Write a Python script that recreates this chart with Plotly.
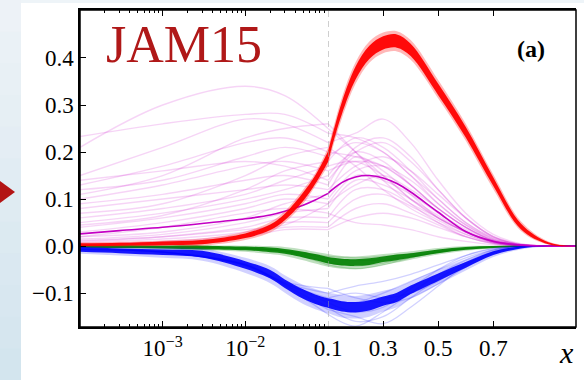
import plotly.graph_objects as go

# ---------------- data ----------------
# knots for the bands / central curve: log part (<=0.1) then linear part (>0.1)
X_BAND = [1e-4, 3e-4, 1e-3, 3e-3, 1e-2, 2e-2, 3e-2, 5e-2, 7e-2, 0.1,
          0.12, 0.15, 0.2, 0.25, 0.3, 0.35, 0.4, 0.5, 0.6, 0.7, 0.8, 0.9, 1.0]

RED_CORE_LO = [0.000, 0.001, 0.002, 0.004, 0.017, 0.034, 0.055, 0.096, 0.132, 0.179,
               0.223, 0.280, 0.354, 0.398, 0.418, 0.422, 0.404, 0.321, 0.231, 0.128, 0.036, 0.004, 0.0]
RED_CORE_HI = [0.006, 0.007, 0.010, 0.013, 0.027, 0.046, 0.069, 0.114, 0.150, 0.201,
               0.245, 0.306, 0.382, 0.426, 0.446, 0.450, 0.430, 0.345, 0.253, 0.146, 0.048, 0.008, 0.0]
RED_OUT_LO = [-0.002, -0.001, 0.000, 0.001, 0.013, 0.029, 0.050, 0.090, 0.127, 0.171,
              0.215, 0.271, 0.345, 0.390, 0.410, 0.414, 0.396, 0.314, 0.224, 0.121, 0.032, 0.003, 0.0]
RED_OUT_HI = [0.008, 0.009, 0.012, 0.016, 0.031, 0.051, 0.074, 0.120, 0.155, 0.209,
              0.253, 0.315, 0.391, 0.435, 0.454, 0.457, 0.438, 0.353, 0.260, 0.152, 0.053, 0.010, 0.0]

BLUE_CORE_LO = [-0.012, -0.015, -0.019, -0.024, -0.048, -0.069, -0.089, -0.112, -0.123, -0.131,
                -0.135, -0.139, -0.141, -0.137, -0.127, -0.119, -0.102, -0.074, -0.046, -0.019, -0.005, 0.0, 0.0]
BLUE_CORE_HI = [-0.002, -0.005, -0.007, -0.010, -0.032, -0.051, -0.071, -0.092, -0.103, -0.111,
                -0.113, -0.117, -0.119, -0.115, -0.107, -0.099, -0.084, -0.058, -0.034, -0.011, -0.001, 0.0, 0.0]
BLUE_OUT_LO = [-0.016, -0.020, -0.025, -0.031, -0.057, -0.079, -0.099, -0.123, -0.134, -0.143,
               -0.147, -0.152, -0.154, -0.150, -0.139, -0.130, -0.112, -0.082, -0.052, -0.023, -0.007, -0.001, 0.0]
BLUE_OUT_HI = [0.000, -0.002, -0.003, -0.005, -0.025, -0.043, -0.062, -0.082, -0.091, -0.099,
               -0.101, -0.104, -0.106, -0.102, -0.095, -0.088, -0.075, -0.050, -0.028, -0.007, 0.000, 0.0, 0.0]

GREEN_CORE_LO = [-0.004, -0.004, -0.005, -0.007, -0.009, -0.013, -0.016, -0.024, -0.030, -0.037,
                 -0.039, -0.041, -0.042, -0.040, -0.034, -0.030, -0.025, -0.015, -0.008, -0.004, -0.0015, 0.0, 0.0]
GREEN_CORE_HI = [0.002, 0.002, 0.001, 0.001, -0.001, -0.003, -0.006, -0.012, -0.017, -0.023,
                 -0.025, -0.027, -0.028, -0.026, -0.022, -0.018, -0.015, -0.007, -0.002, 0.000, 0.0005, 0.0, 0.0]
GREEN_OUT_LO = [-0.005, -0.005, -0.007, -0.009, -0.012, -0.017, -0.021, -0.030, -0.037, -0.044,
                -0.046, -0.048, -0.049, -0.046, -0.040, -0.035, -0.029, -0.018, -0.010, -0.005, -0.002, 0.0, 0.0]
GREEN_OUT_HI = [0.003, 0.003, 0.002, 0.002, 0.001, 0.000, -0.002, -0.007, -0.012, -0.017,
                -0.019, -0.021, -0.022, -0.020, -0.017, -0.014, -0.011, -0.004, 0.000, 0.001, 0.001, 0.0, 0.0]

MAG_MID = [0.026, 0.033, 0.040, 0.048, 0.058, 0.066, 0.074, 0.087, 0.098, 0.112,
           0.122, 0.135, 0.147, 0.150, 0.145, 0.133, 0.115, 0.072, 0.031, 0.010, 0.002, 0.0, 0.0]

# knots for the individual faint replicas
X_REP = [1e-4, 1e-3, 1e-2, 3e-2, 0.1, 0.2, 0.3, 0.4, 0.5, 0.6, 0.7, 0.8, 0.9, 1.0]

MAG_REPLICAS = [
    [0.210, 0.300, 0.340, 0.320, 0.250, 0.200, 0.150, 0.100, 0.060, 0.030, 0.010, 0.002, 0, 0],
    [0.233, 0.260, 0.280, 0.280, 0.240, 0.230, 0.200, 0.150, 0.090, 0.045, 0.015, 0.003, 0, 0],
    [0.150, 0.210, 0.270, 0.260, 0.220, 0.240, 0.270, 0.220, 0.140, 0.070, 0.025, 0.005, 0, 0],
    [0.130, 0.170, 0.220, 0.230, 0.200, 0.190, 0.170, 0.130, 0.080, 0.040, 0.013, 0.002, 0, 0],
    [0.120, 0.140, 0.190, 0.210, 0.190, 0.220, 0.200, 0.150, 0.100, 0.050, 0.018, 0.003, 0, 0],
    [0.100, 0.130, 0.170, 0.180, 0.160, 0.180, 0.170, 0.130, 0.080, 0.040, 0.012, 0.002, 0, 0],
    [0.140, 0.160, 0.180, 0.170, 0.140, 0.200, 0.220, 0.180, 0.120, 0.060, 0.020, 0.004, 0, 0],
    [0.090, 0.110, 0.140, 0.150, 0.130, 0.210, 0.230, 0.190, 0.120, 0.060, 0.020, 0.003, 0, 0],
    [0.080, 0.100, 0.120, 0.130, 0.120, 0.170, 0.190, 0.160, 0.110, 0.060, 0.020, 0.003, 0, 0],
    [0.060, 0.080, 0.110, 0.140, 0.170, 0.180, 0.150, 0.100, 0.060, 0.030, 0.010, 0.002, 0, 0],
    [0.050, 0.070, 0.100, 0.120, 0.150, 0.200, 0.180, 0.130, 0.080, 0.040, 0.012, 0.002, 0, 0],
    [0.040, 0.060, 0.090, 0.110, 0.100, 0.160, 0.170, 0.140, 0.090, 0.045, 0.015, 0.002, 0, 0],
    [0.030, 0.050, 0.080, 0.100, 0.090, 0.130, 0.150, 0.120, 0.080, 0.040, 0.012, 0.002, 0, 0],
    [0.020, 0.030, 0.060, 0.090, 0.110, 0.190, 0.160, 0.110, 0.060, 0.030, 0.008, 0.001, 0, 0],
    [0.015, 0.025, 0.050, 0.070, 0.080, 0.140, 0.130, 0.100, 0.065, 0.030, 0.010, 0.001, 0, 0],
    [0.010, 0.020, 0.040, 0.060, 0.060, 0.120, 0.120, 0.090, 0.060, 0.030, 0.008, 0.001, 0, 0],
    [0.008, 0.015, 0.030, 0.050, 0.050, 0.100, 0.110, 0.085, 0.055, 0.025, 0.007, 0.001, 0, 0],
    [0.005, 0.010, 0.025, 0.040, 0.040, 0.080, 0.090, 0.070, 0.045, 0.020, 0.006, 0.001, 0, 0],
    [0.003, 0.008, 0.020, 0.035, 0.035, 0.060, 0.070, 0.060, 0.040, 0.020, 0.005, 0.001, 0, 0],
    [0.070, 0.090, 0.150, 0.190, 0.210, 0.170, 0.120, 0.080, 0.050, 0.025, 0.008, 0.001, 0, 0],
    [0.110, 0.150, 0.230, 0.250, 0.260, 0.200, 0.140, 0.090, 0.050, 0.020, 0.006, 0.001, 0, 0],
    [0.020, 0.040, 0.070, 0.080, 0.070, 0.050, 0.045, 0.035, 0.020, 0.010, 0.003, 0.000, 0, 0],
    [0.045, 0.065, 0.120, 0.160, 0.180, 0.230, 0.210, 0.160, 0.100, 0.050, 0.017, 0.003, 0, 0],
    [0.012, 0.020, 0.035, 0.045, 0.090, 0.150, 0.140, 0.110, 0.070, 0.035, 0.010, 0.002, 0, 0],
]

BLUE_REPLICAS = [
    [-0.006, -0.012, -0.038, -0.078, -0.100, -0.085, -0.075, -0.060, -0.040, -0.020, -0.006, -0.001, 0, 0],
    [-0.007, -0.013, -0.040, -0.082, -0.130, -0.160, -0.150, -0.110, -0.070, -0.035, -0.010, -0.002, 0, 0],
    [-0.007, -0.013, -0.042, -0.085, -0.145, -0.170, -0.140, -0.100, -0.060, -0.030, -0.008, -0.001, 0, 0],
    [-0.007, -0.013, -0.040, -0.080, -0.110, -0.100, -0.110, -0.100, -0.075, -0.040, -0.012, -0.002, 0, 0],
    [-0.007, -0.013, -0.040, -0.080, -0.120, -0.140, -0.130, -0.090, -0.050, -0.020, -0.005, 0.000, 0, 0],
    [-0.007, -0.013, -0.039, -0.076, -0.090, -0.110, -0.120, -0.110, -0.080, -0.045, -0.015, -0.003, 0, 0],
    [-0.007, -0.013, -0.041, -0.083, -0.135, -0.150, -0.165, -0.130, -0.085, -0.040, -0.012, -0.002, 0, 0],
    [-0.007, -0.013, -0.040, -0.079, -0.115, -0.120, -0.100, -0.075, -0.050, -0.025, -0.008, -0.001, 0, 0],
]

GREEN_REPLICAS = [
    [-0.001, -0.002, -0.005, -0.012, -0.040, -0.048, -0.040, -0.025, -0.013, -0.006, -0.002, 0, 0, 0],
    [-0.001, -0.002, -0.005, -0.010, -0.022, -0.025, -0.022, -0.016, -0.009, -0.004, -0.001, 0, 0, 0],
    [-0.001, -0.002, -0.005, -0.011, -0.035, -0.042, -0.036, -0.024, -0.013, -0.006, -0.002, 0, 0, 0],
    [-0.001, -0.002, -0.005, -0.011, -0.026, -0.030, -0.030, -0.022, -0.012, -0.005, -0.001, 0, 0, 0],
]

Y_TICKS = [-0.1, 0.0, 0.1, 0.2, 0.3, 0.4]
Y_TICKTEXT = ["\u22120.1", "0.0", "0.1", "0.2", "0.3", "0.4"]
X_LOG_TICKS = [1e-3, 1e-2]
X_LOG_TICKTEXT = ["10<sup>\u22123</sup>", "10<sup>\u22122</sup>"]
X_LIN_TICKS = [0.1, 0.3, 0.5, 0.7]
X_LIN_TICKTEXT = ["0.1", "0.3", "0.5", "0.7"]

# ---------------- figure ----------------
W, H = 584, 380
ML, MR, MT, MB = 80, 8, 10, 53
PW, PH = W - ML - MR, H - MT - MB
FONT = "Liberation Serif, Times New Roman, serif"


def split(xs, ys):
    """Split a curve at x=0.1 into the log-axis and linear-axis parts."""
    lx, ly, rx, ry = [], [], [], []
    for x, y in zip(xs, ys):
        if x <= 0.1:
            lx.append(x); ly.append(y)
        if x >= 0.1:
            rx.append(x); ry.append(y)
    return (lx, ly, "x"), (rx, ry, "x2")


fig = go.Figure()


def add_line(xs, ys, color, width):
    for px, py, ax in split(xs, ys):
        fig.add_trace(go.Scatter(x=px, y=py, xaxis=ax, yaxis="y", mode="lines",
                                 line=dict(color=color, width=width, shape="spline"),
                                 hoverinfo="skip", showlegend=False))


def add_band(xs, lo, hi, color):
    for (px, plo, ax), (_, phi, _) in zip(split(xs, lo), split(xs, hi)):
        fig.add_trace(go.Scatter(x=px, y=plo, xaxis=ax, yaxis="y", mode="lines",
                                 line=dict(width=0, shape="spline", color=color),
                                 hoverinfo="skip", showlegend=False))
        fig.add_trace(go.Scatter(x=px, y=phi, xaxis=ax, yaxis="y", mode="lines",
                                 line=dict(width=0, shape="spline", color=color),
                                 fill="tonexty", fillcolor=color,
                                 hoverinfo="skip", showlegend=False))


# magenta replicas
for rep in MAG_REPLICAS:
    add_line(X_REP, rep, "rgba(204,0,204,0.17)", 1.4)
# green
for rep in GREEN_REPLICAS:
    add_line(X_REP, rep, "rgba(0,128,0,0.2)", 1.2)
add_band(X_BAND, GREEN_OUT_LO, GREEN_OUT_HI, "rgba(0,128,0,0.25)")
add_band(X_BAND, GREEN_CORE_LO, GREEN_CORE_HI, "rgba(0,128,0,0.9)")
# blue
for rep in BLUE_REPLICAS:
    add_line(X_REP, rep, "rgba(0,0,255,0.18)", 1.3)
add_band(X_BAND, BLUE_OUT_LO, BLUE_OUT_HI, "rgba(0,0,255,0.18)")
add_band(X_BAND, BLUE_CORE_LO, BLUE_CORE_HI, "rgba(0,0,255,0.9)")
# magenta central
add_line(X_BAND, MAG_MID, "#c400c4", 1.6)
# red
add_band(X_BAND, RED_OUT_LO, RED_OUT_HI, "rgba(255,0,0,0.28)")
add_band(X_BAND, RED_CORE_LO, RED_CORE_HI, "rgba(255,0,0,0.95)")

tickfont = dict(family=FONT, size=23, color="black")
minor_log = [k * 10.0 ** e for e in (-4, -3, -2) for k in range(2, 10)]

fig.update_layout(
    width=W, height=H,
    font=dict(family=FONT, size=23, color="black"),
    margin=dict(l=ML, r=MR, t=MT, b=MB, autoexpand=False),
    paper_bgcolor="white", plot_bgcolor="rgba(0,0,0,0)",
    showlegend=False,
    xaxis=dict(type="log", domain=[0, 0.5], range=[-4, -1], anchor="y", automargin=False,
               tickmode="array", tickvals=X_LOG_TICKS, ticktext=X_LOG_TICKTEXT,
               ticks="inside", ticklen=6, tickwidth=1, tickcolor="black",
               minor=dict(tickmode="array", tickvals=minor_log, ticks="inside",
                          ticklen=3, tickwidth=1, tickcolor="black", showgrid=False),
               showline=True, linecolor="black", linewidth=1.5, mirror="ticks",
               showgrid=False, zeroline=False, tickfont=tickfont, ticklabelstandoff=0),
    xaxis2=dict(domain=[0.5, 1], range=[0.1, 1.0], anchor="y", automargin=False,
                tickmode="array", tickvals=X_LIN_TICKS, ticktext=X_LIN_TICKTEXT,
                ticks="inside", ticklen=6, tickwidth=1, tickcolor="black",
                showline=True, linecolor="black", linewidth=1.5, mirror="ticks",
                showgrid=False, zeroline=False, tickfont=tickfont, ticklabelstandoff=0),
    yaxis=dict(range=[-0.172, 0.502], anchor="x", automargin=False,
               tickmode="array", tickvals=Y_TICKS, ticktext=Y_TICKTEXT,
               ticks="inside", ticklen=6, tickwidth=1, tickcolor="black",
               showline=True, linecolor="black", linewidth=1.5,
               showgrid=False, zeroline=False, tickfont=tickfont, ticklabelstandoff=0),
)


def pp(x, y):
    """pixel -> paper coordinates (for decorations outside the data)."""
    return (x - ML) / PW, (H - MB - y) / PH


shapes = []
# light blue frame around the white panel (vertical gradient on the left strip)
top_c = (238, 243, 247)
bot_c = (210, 228, 238)
n = 12
for i in range(n):
    t = (i + 0.5) / n
    c = tuple(round(top_c[k] + (bot_c[k] - top_c[k]) * t) for k in range(3))
    x0, y0 = pp(0, H * i / n)
    x1, y1 = pp(21, H * (i + 1) / n + 1)
    shapes.append(dict(type="rect", xref="paper", yref="paper", x0=x0, x1=x1, y0=y0, y1=y1,
                       line=dict(width=0), fillcolor="rgb(%d,%d,%d)" % c, layer="below"))
x0, y0 = pp(21, 0)
x1, y1 = pp(W, 3)
shapes.append(dict(type="rect", xref="paper", yref="paper", x0=x0, x1=x1, y0=y0, y1=y1,
                   line=dict(width=0), fillcolor="rgb(238,244,248)", layer="below"))
# red pointer triangle
a = pp(0, 181); b = pp(15, 192); c = pp(0, 203)
shapes.append(dict(type="path", xref="paper", yref="paper",
                   path="M %f,%f L %f,%f L %f,%f Z" % (a[0], a[1], b[0], b[1], c[0], c[1]),
                   line=dict(width=0), fillcolor="#b31414", layer="above"))
# dashed line at x = 0.1
shapes.append(dict(type="line", xref="x2", yref="paper", x0=0.1, x1=0.1, y0=0, y1=1,
                   line=dict(color="#a0a0a0", width=1, dash="6px,4px"), layer="above"))
# frame
shapes.append(dict(type="rect", xref="paper", yref="paper", x0=0, x1=1, y0=0, y1=1,
                   line=dict(color="black", width=1.5), layer="above"))
fig.update_layout(shapes=shapes)

jx, jy = pp(104, 64)
ax_, ay_ = pp(531, 49)
xx, xy = pp(566, 352)
fig.add_annotation(x=jx, y=jy, xref="paper", yref="paper", xanchor="left", yanchor="bottom",
                   text="JAM15", showarrow=False,
                   font=dict(family=FONT, size=52, color="#b01818"), yshift=-11)
fig.add_annotation(x=ax_, y=ay_, xref="paper", yref="paper", xanchor="center", yanchor="middle",
                   text="<b>(a)</b>", showarrow=False,
                   font=dict(family=FONT, size=24, color="black"))
fig.add_annotation(x=xx, y=xy, xref="paper", yref="paper", xanchor="center", yanchor="middle",
                   text="<i>x</i>", showarrow=False,
                   font=dict(family=FONT, size=30, color="black"))

fig.write_html("out.html", config={"displayModeBar": False},
               post_script="document.body.style.margin='0';document.body.style.padding='0';")
